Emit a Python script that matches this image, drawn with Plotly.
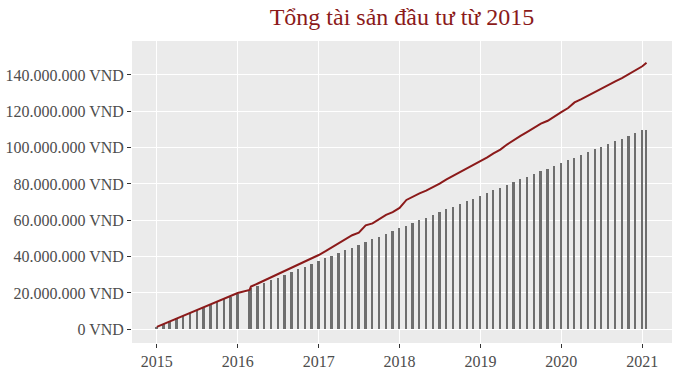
import plotly.graph_objects as go

# ---- data (values in million VND) ----
dates = [
    "2015-01-01", "2015-02-01", "2015-03-01", "2015-04-01", "2015-05-01", "2015-06-01",
    "2015-07-01", "2015-08-01", "2015-09-01", "2015-10-01", "2015-11-01", "2015-12-01",
    "2016-01-01", "2016-02-24", "2016-03-01", "2016-04-01", "2016-05-01", "2016-06-01",
    "2016-07-01", "2016-08-01", "2016-09-01", "2016-10-01", "2016-11-01", "2016-12-01",
    "2017-01-01", "2017-02-01", "2017-03-01", "2017-04-01", "2017-05-01", "2017-06-01",
    "2017-07-01", "2017-08-01", "2017-09-01", "2017-10-01", "2017-11-01", "2017-12-01",
    "2018-01-01", "2018-02-01", "2018-03-01", "2018-04-01", "2018-05-01", "2018-06-01",
    "2018-07-01", "2018-08-01", "2018-09-01", "2018-10-01", "2018-11-01", "2018-12-01",
    "2019-01-01", "2019-02-01", "2019-03-01", "2019-04-01", "2019-05-01", "2019-06-01",
    "2019-07-01", "2019-08-01", "2019-09-01", "2019-10-01", "2019-11-01", "2019-12-01",
    "2020-01-01", "2020-02-01", "2020-03-01", "2020-04-01", "2020-05-01", "2020-06-01",
    "2020-07-01", "2020-08-01", "2020-09-01", "2020-10-01", "2020-11-01", "2020-12-01",
    "2021-01-01", "2021-01-20",
]

invested_m = [
    1.5, 3, 4.5, 6, 7.5, 9, 10.5, 12, 13.5, 15, 16.5, 18,
    19.5, 21, 22.5, 24, 25.5, 27, 28.5, 30, 31.5, 33, 34.5, 36,
    37.5, 39, 40.5, 42, 43.5, 45, 46.5, 48, 49.5, 51, 52.5, 54,
    55.5, 57, 58.5, 60, 61.5, 63, 64.5, 66, 67.5, 69, 70.5, 72,
    73.5, 75, 76.5, 78, 79.5, 81, 82.5, 84, 85.5, 87, 88.5, 90,
    91.5, 93, 94.5, 96, 97.5, 99, 100.5, 102, 103.5, 105, 106.5, 108,
    109.5, 109.5,
]

total_m = [
    1.3, 2.9, 4.4, 6.0, 7.5, 9.1, 10.6, 12.2, 13.8, 15.3, 16.9, 18.5,
    20.0, 21.7, 23.5, 25.2, 26.9, 28.6, 30.3, 32.0, 33.7, 35.5, 37.3, 39.1,
    40.9, 43.0, 45.0, 47.0, 49.5, 51.8, 53.2, 57.2, 58.3, 60.5, 63.0, 64.5,
    66.8, 71.2, 73.0, 74.8, 76.3, 78.2, 80.2, 82.5, 84.5, 86.5, 88.5, 90.5,
    92.5, 94.6, 96.8, 98.9, 101.7, 104.3, 106.5, 108.7, 110.9, 113.2, 114.8, 117.3,
    119.5, 121.8, 124.9, 126.7, 128.7, 130.6, 132.6, 134.5, 136.5, 138.3, 140.5, 142.6,
    144.8, 146.7,
]

y_tick_vals = [0, 20e6, 40e6, 60e6, 80e6, 100e6, 120e6, 140e6]
y_tick_text = ["0 VND", "20.000.000 VND", "40.000.000 VND", "60.000.000 VND",
               "80.000.000 VND", "100.000.000 VND", "120.000.000 VND", "140.000.000 VND"]
x_tick_vals = ["2015-01-01", "2016-01-01", "2017-01-01", "2018-01-01",
               "2019-01-01", "2020-01-01", "2021-01-01"]
x_tick_text = ["2015", "2016", "2017", "2018", "2019", "2020", "2021"]

title_text = "Tổng tài sản đầu tư từ 2015"

invested = [v * 1e6 for v in invested_m]
total = [v * 1e6 for v in total_m]

FONT = "Liberation Serif, Times New Roman, serif"
DARKRED = "#8B1A1A"

fig = go.Figure()
fig.add_trace(go.Bar(
    x=dates, y=invested,
    width=8 * 86400000,
    marker=dict(color="#6E6E6E", line=dict(width=0)),
    showlegend=False,
))
fig.add_trace(go.Scatter(
    x=dates, y=total, mode="lines",
    line=dict(color=DARKRED, width=2),
    showlegend=False,
))

fig.update_layout(
    width=680, height=381,
    margin=dict(l=132, r=8, t=41, b=38, autoexpand=False),
    paper_bgcolor="white",
    plot_bgcolor="#EBEBEB",
    font=dict(family=FONT, size=16, color="#4D4D4D"),
    title=dict(text=title_text, x=0.5, xref="paper", xanchor="center",
               y=1 - 17 / 381, yref="container", yanchor="middle",
               font=dict(family=FONT, size=24, color=DARKRED)),
    bargap=0,
    xaxis=dict(
        type="date",
        range=["2014-09-11", "2021-05-15"],
        tickvals=x_tick_vals, ticktext=x_tick_text,
        showgrid=True, gridcolor="white", gridwidth=1.1,
        ticks="outside", ticklen=4, tickcolor="#333333", tickwidth=1,
        zeroline=False, showline=False,
        tickfont=dict(family=FONT, size=16, color="#4D4D4D"),
    ),
    yaxis=dict(
        range=[-7.54e6, 158.7e6],
        tickvals=y_tick_vals, ticktext=y_tick_text,
        showgrid=True, gridcolor="white", gridwidth=1.1,
        ticks="outside", ticklen=4, tickcolor="#333333", tickwidth=1,
        zeroline=False, showline=False,
        tickfont=dict(family=FONT, size=16, color="#4D4D4D"),
    ),
)

fig.write_html("out.html", config={"displayModeBar": False},
               post_script="document.body.style.margin='0';")
